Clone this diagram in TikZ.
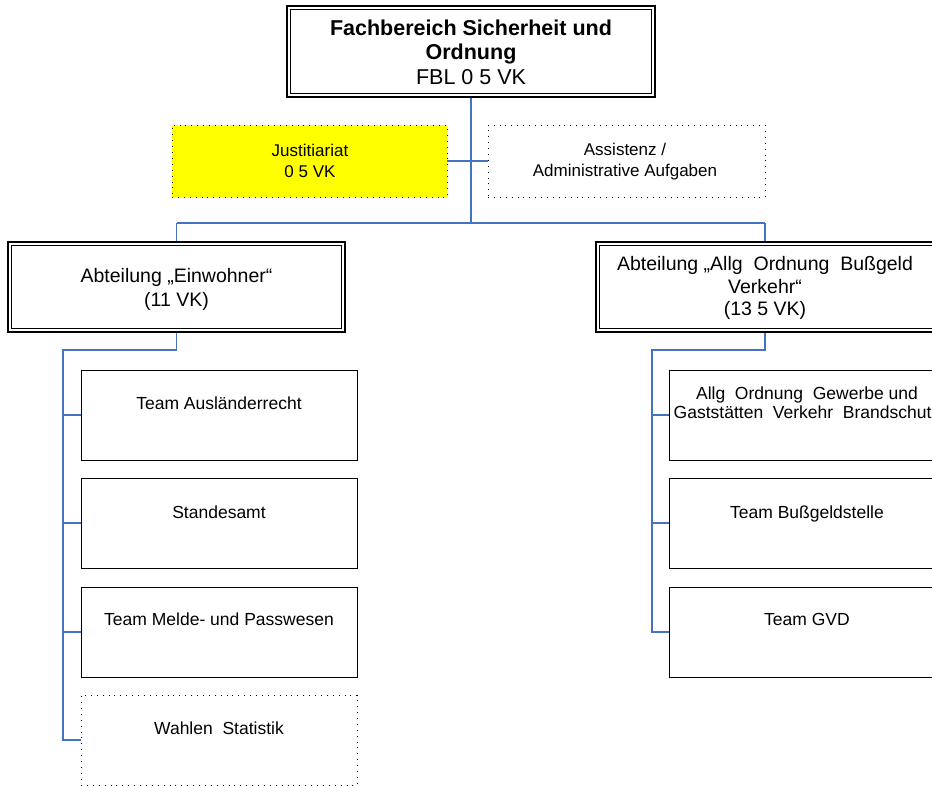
\documentclass[tikz,border=0pt]{standalone}
\usepackage{fontspec}
\setmainfont{Liberation Sans}
\definecolor{linkblue}{RGB}{70,114,196}
\definecolor{boxyellow}{RGB}{255,255,0}
\tikzset{
  x=1pt, y=-1pt,
  link/.style={draw=linkblue, line width=1.6pt},
  solidbox/.style={draw=black, line width=1pt, fill=white, inner sep=0pt},
  dotbox/.style={draw=black, line width=0.9pt, dash pattern=on 0.9pt off 5pt, inner sep=0pt},
  outerbox/.style={draw=black, line width=1.8pt, fill=white, inner sep=0pt},
  innerline/.style={draw=black, line width=0.9pt},
  txt/.style={align=center, inner sep=0pt, anchor=north, font=\fontsize{17.5}{19}\selectfont},
  stafftxt/.style={txt, font=\fontsize{17}{21}\selectfont},
  depttxt/.style={txt, font=\fontsize{19.5}{24}\selectfont},
}
\newcommand{\innerframe}[1]{%
  \draw[innerline] ([shift={(4pt,-4pt)}]#1.north west) rectangle ([shift={(-4pt,4pt)}]#1.south east);}
\begin{document}
\begin{tikzpicture}
\useasboundingbox (0,0) rectangle (932,785);
\clip (0,0) rectangle (932,785);

% head of department
\node[outerbox, minimum width=368pt, minimum height=91pt] (fb) at (471,51.5) {};
\innerframe{fb}
\node[txt, font=\fontsize{21.5}{24.5}\selectfont] (fbt) at (471,19.5)
  {\textbf{Fachbereich Sicherheit und}\\\textbf{Ordnung}\\FBL 0 5 VK};

% staff units
\node[dotbox, fill=boxyellow, minimum width=275pt, minimum height=72pt] (just) at (309.5,161) {};
\node[stafftxt] (justt) at (310,143.5) {Justitiariat\\0 5 VK};
\node[dotbox, minimum width=277pt, minimum height=72pt] (ass) at (626.5,161) {};
\node[stafftxt] (asst) at (625,143) {Assistenz /\\Administrative Aufgaben};

% departments
\node[outerbox, minimum width=337pt, minimum height=90pt] (ew) at (176.5,287) {};
\innerframe{ew}
\node[depttxt] (ewt) at (176.5,268.5) {Abteilung „Einwohner“\\(11 VK)};
\node[outerbox, minimum width=345pt, minimum height=90pt] (ov) at (768.5,287) {};
\innerframe{ov}
\node[depttxt, font=\fontsize{19.5}{22.5}\selectfont] (ovt) at (765,256.5)
  {Abteilung „Allg\ \ Ordnung\ \ Bußgeld\\Verkehr“\\(13 5 VK)};

% teams of the left department
\node[solidbox, minimum width=276pt, minimum height=90pt] (t1) at (219,415) {};
\node[txt] (t1t) at (219,397) {Team Ausländerrecht};
\node[solidbox, minimum width=276pt, minimum height=90pt] (t2) at (219,523) {};
\node[txt] (t2t) at (219,505.5) {Standesamt};
\node[solidbox, minimum width=276pt, minimum height=90pt] (t3) at (219,632) {};
\node[txt] (t3t) at (219,612.5) {Team Melde- und Passwesen};
\node[dotbox, minimum width=276pt, minimum height=90pt] (t4) at (219,740) {};
\node[txt] (t4t) at (219,722) {Wahlen\ \ Statistik};

% teams of the right department
\node[solidbox, minimum width=276pt, minimum height=90pt] (r1) at (807,415) {};
\node[txt] (r1t) at (807,387) {Allg\ \ Ordnung\ \ Gewerbe und\\Gaststätten\ \ Verkehr\ \ Brandschutz};
\node[solidbox, minimum width=276pt, minimum height=90pt] (r2) at (807,523) {};
\node[txt] (r2t) at (807,505.5) {Team Bußgeldstelle};
\node[solidbox, minimum width=276pt, minimum height=90pt] (r3) at (807,632) {};
\node[txt] (r3t) at (807,613) {Team GVD};

% connector junctions
\coordinate (bus) at (471,223);
\coordinate (ewknee) at (176.5,350);
\coordinate (ewspine) at (63,350);
\coordinate (ovknee) at (765,350);
\coordinate (ovspine) at (652,350);

% connectors
\draw[link] (fb.south) -- (bus);
\draw[link] (just.east) -- (ass.west);
\draw[link] (bus -| ew.north) -- (bus -| ovknee);
\draw[link] (bus -| ew.north) -- (ew.north);
\draw[link] (bus -| ovknee) -- (ovknee |- ov.north);
\draw[link] (ew.south) -- (ewknee) -- (ewspine) -- (ewspine |- t4.west) -- (t4.west);
\draw[link] (ewspine |- t1.west) -- (t1.west);
\draw[link] (ewspine |- t2.west) -- (t2.west);
\draw[link] (ewspine |- t3.west) -- (t3.west);
\draw[link] (ovknee |- ov.south) -- (ovknee) -- (ovspine) -- (ovspine |- r3.west) -- (r3.west);
\draw[link] (ovspine |- r1.west) -- (r1.west);
\draw[link] (ovspine |- r2.west) -- (r2.west);
\end{tikzpicture}
\end{document}
